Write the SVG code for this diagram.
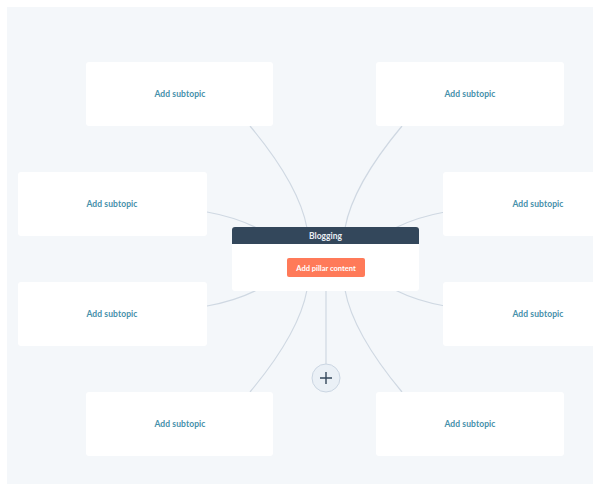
<svg xmlns="http://www.w3.org/2000/svg" width="600" height="494" viewBox="0 0 600 494">
  <defs>
    <clipPath id="panelClip"><rect x="7" y="7" width="586" height="477"/></clipPath>
    <clipPath id="headClip"><rect x="232" y="227" width="187" height="17"/></clipPath>
  </defs>
  <style>
    .sub rect { fill: #ffffff; }
    .sub text { font-family: Lato, "Open Sans", sans-serif; font-size: 8.5px; font-weight: bold; fill: #4590aa; text-anchor: middle; letter-spacing: 0.1px; }
    .conn path { fill: none; stroke: #cfd8e2; stroke-width: 1.2; }
  </style>
  <rect x="0" y="0" width="600" height="494" fill="#ffffff"/>
  <rect x="7" y="7" width="586" height="477" fill="#f4f7fa"/>
  <g clip-path="url(#panelClip)">
    <g id="connectors" class="conn">
      <path d="M250,126 C270,150 300,190 307,228"/>
      <path d="M402,126 C382,150 352,190 345,228"/>
      <path d="M207,212 Q235,217 257,228"/>
      <path d="M445,212 Q417,217 395,228"/>
      <path d="M207,306 Q235,301 257,290"/>
      <path d="M445,306 Q417,301 395,290"/>
      <path d="M250,392 C270,368 300,328 307,290"/>
      <path d="M402,392 C382,368 352,328 345,290"/>
      <path d="M326,291 L326,364"/>
    </g>
    <g id="sub-top-left" class="sub">
      <rect x="86" y="62" width="187" height="64" rx="3"/>
      <text x="180" y="97">Add subtopic</text>
    </g>
    <g id="sub-top-right" class="sub">
      <rect x="376" y="62" width="188" height="64" rx="3"/>
      <text x="470" y="97">Add subtopic</text>
    </g>
    <g id="sub-mid-left-1" class="sub">
      <rect x="18" y="172" width="189" height="64" rx="3"/>
      <text x="112" y="207">Add subtopic</text>
    </g>
    <g id="sub-mid-left-2" class="sub">
      <rect x="18" y="282" width="189" height="64" rx="3"/>
      <text x="112" y="317">Add subtopic</text>
    </g>
    <g id="sub-mid-right-1" class="sub">
      <rect x="443" y="172" width="190" height="64" rx="3"/>
      <text x="538" y="207">Add subtopic</text>
    </g>
    <g id="sub-mid-right-2" class="sub">
      <rect x="443" y="282" width="190" height="64" rx="3"/>
      <text x="538" y="317">Add subtopic</text>
    </g>
    <g id="sub-bottom-left" class="sub">
      <rect x="86" y="392" width="187" height="64" rx="3"/>
      <text x="180" y="427">Add subtopic</text>
    </g>
    <g id="sub-bottom-right" class="sub">
      <rect x="376" y="392" width="188" height="64" rx="3"/>
      <text x="470" y="427">Add subtopic</text>
    </g>
    <g id="pillar">
      <rect x="232" y="227" width="187" height="64" rx="3" fill="#ffffff"/>
      <rect x="232" y="227" width="187" height="20" rx="3" fill="#33475b" clip-path="url(#headClip)"/>
      <text x="325.5" y="239" font-family="Lato, 'Open Sans', sans-serif" font-size="8.5" font-weight="bold" fill="#e8eef4" text-anchor="middle">Blogging</text>
      <rect x="287" y="258" width="78" height="19" rx="2" fill="#ff7a59"/>
      <text x="326" y="270.5" font-family="Lato, 'Open Sans', sans-serif" font-size="7.5" font-weight="bold" fill="#ffffff" text-anchor="middle">Add pillar content</text>
    </g>
    <g id="add-button">
      <circle cx="326" cy="378" r="14" fill="#eaf0f6" stroke="#cbd6e2" stroke-width="1"/>
      <path d="M320,378 H332 M326,372 V384" stroke="#33475b" stroke-width="1.4" fill="none"/>
    </g>
  </g>
</svg>
